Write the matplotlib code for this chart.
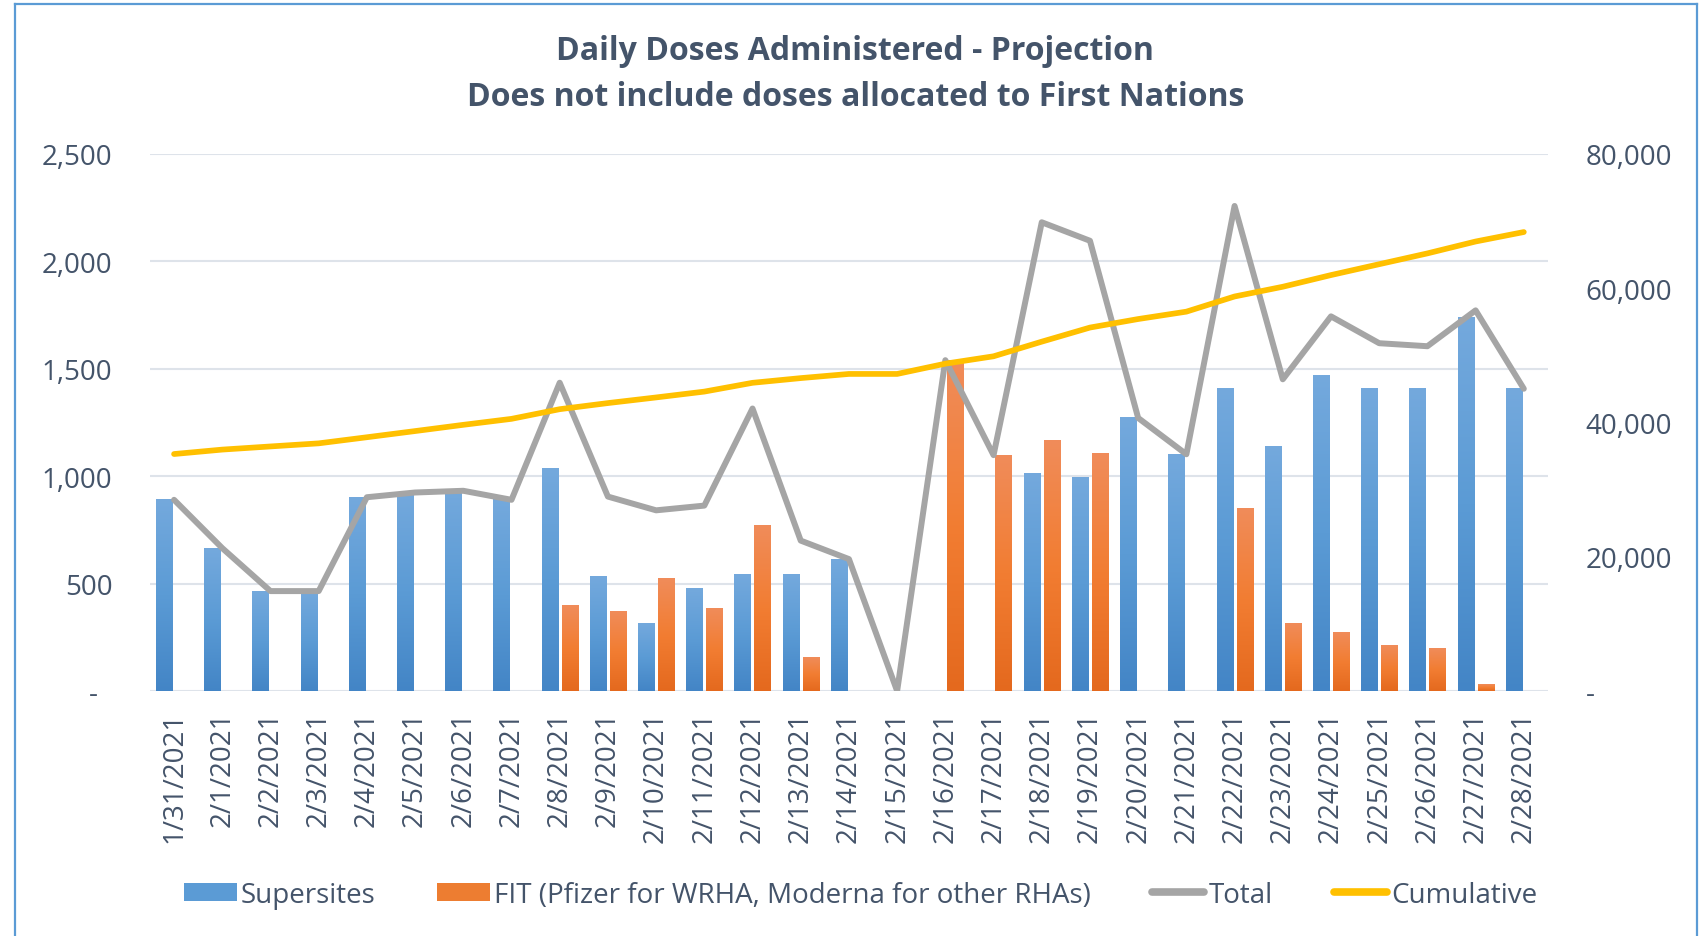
"""Daily Doses Administered - Projection (bars + total / cumulative lines)."""
import matplotlib
matplotlib.use("Agg")
import matplotlib.pyplot as plt
import numpy as np
from matplotlib.colors import LinearSegmentedColormap
from matplotlib.patches import Patch
from matplotlib.lines import Line2D
from matplotlib.ticker import FuncFormatter, MultipleLocator

plt.rcParams.update({
    "font.family": ["Open Sans", "DejaVu Sans"],
    "font.size": 20,
    "figure.facecolor": "white", "savefig.facecolor": "white",
})

TXT = "#44546A"
GRID = "#DEE3EA"
BLUE_MID, ORANGE_MID = "#5B9BD5", "#ED7D31"
GRAY, GOLD = "#A5A5A5", "#FFC000"

# ── Data ─────────────────────────────────────────────────────
dates = ["1/31/2021", "2/1/2021", "2/2/2021", "2/3/2021", "2/4/2021", "2/5/2021",
         "2/6/2021", "2/7/2021", "2/8/2021", "2/9/2021", "2/10/2021", "2/11/2021",
         "2/12/2021", "2/13/2021", "2/14/2021", "2/15/2021", "2/16/2021", "2/17/2021",
         "2/18/2021", "2/19/2021", "2/20/2021", "2/21/2021", "2/22/2021", "2/23/2021",
         "2/24/2021", "2/25/2021", "2/26/2021", "2/27/2021", "2/28/2021"]
supersites = [890, 665, 465, 465, 902, 924, 932, 890, 1037, 534, 315, 478, 544, 544,
              614, 0, 0, 0, 1014, 992, 1271, 1102, 1407, 1136, 1471, 1407, 1407, 1741, 1407]
fit = [0, 0, 0, 0, 0, 0, 0, 0, 398, 371, 526, 385, 771, 156,
       0, 0, 1540, 1098, 1168, 1104, 0, 0, 851, 315, 273, 212, 198, 31, 0]
total = [890, 665, 465, 465, 902, 924, 932, 890, 1435, 905, 841, 863, 1315, 700,
         614, 0, 1540, 1098, 2182, 2096, 1271, 1102, 2258, 1451, 1744, 1619, 1605, 1772, 1407]
cumulative = [35300, 35960, 36430, 36890, 37800, 38720, 39650, 40540, 41980, 42890,
              43730, 44600, 45910, 46610, 47230, 47230, 48760, 49860, 52040, 54140,
              55410, 56510, 58770, 60220, 61960, 63580, 65190, 66960, 68370]

# ── Figure ───────────────────────────────────────────────────
fig = plt.figure(figsize=(17.04, 9.37), dpi=100)
ax = fig.add_axes([0.088, 0.2615, 0.8204, 0.5731])
x = np.arange(len(dates))
bw = 0.35

blue_cmap = LinearSegmentedColormap.from_list("b", ["#4385C6", "#5B9BD5", "#74A9DD"])
orange_cmap = LinearSegmentedColormap.from_list("o", ["#E4691E", "#F27D32", "#F08C5A"])
grad = np.linspace(0, 1, 256).reshape(-1, 1)


def gradient_bars(xs, heights, cmap):
    bars = ax.bar(xs, heights, width=bw, color="none", edgecolor="none", zorder=2)
    for b in bars:
        h = b.get_height()
        if h <= 0:
            continue
        x0 = b.get_x()
        ax.imshow(grad, extent=(x0, x0 + b.get_width(), 0, h), origin="lower",
                  aspect="auto", cmap=cmap, zorder=2, interpolation="bilinear")


gradient_bars(x - 0.2, supersites, blue_cmap)
gradient_bars(x + 0.215, fit, orange_cmap)

ax.plot(x, total, color=GRAY, lw=4.3, solid_capstyle="round",
        solid_joinstyle="round", zorder=3)

ax.set_xlim(-0.5, len(dates) - 0.5)
ax.set_ylim(0, 2500)
ax.yaxis.set_major_locator(MultipleLocator(500))
ax.yaxis.set_major_formatter(FuncFormatter(lambda v, p: "-  " if v == 0 else f"{int(v):,}"))
ax.grid(axis="y", color=GRID, lw=1.5, zorder=0)
ax.set_axisbelow(True)
for s in ax.spines.values():
    s.set_visible(False)
ax.set_xticks(x)
ax.set_xticklabels(dates, rotation=90, va="top")
ax.tick_params(axis="x", length=0, pad=14, colors=TXT, labelsize=20)
ax.tick_params(axis="y", length=0, pad=27, colors=TXT, labelsize=20)

ax2 = ax.twinx()
ax2.plot(x, cumulative, color=GOLD, lw=4.1, solid_capstyle="round",
         solid_joinstyle="round", zorder=4)
ax2.set_ylim(0, 80000)
ax2.yaxis.set_major_locator(MultipleLocator(20000))
ax2.yaxis.set_major_formatter(FuncFormatter(lambda v, p: "-" if v == 0 else f"{int(v):,}"))
for s in ax2.spines.values():
    s.set_visible(False)
ax2.tick_params(axis="y", length=0, pad=27, colors=TXT, labelsize=20)

# ── Title ────────────────────────────────────────────────────
fig.text(0.502, 1 - 51 / 937, "Daily Doses Administered - Projection",
         ha="center", va="center", fontsize=23, fontweight="bold", color=TXT)
fig.text(0.502, 1 - 98 / 937, "Does not include doses allocated to First Nations",
         ha="center", va="center", fontsize=23, fontweight="bold", color=TXT)

# ── Legend ───────────────────────────────────────────────────
handles = [
    Patch(facecolor=BLUE_MID, edgecolor="none"),
    Patch(facecolor=ORANGE_MID, edgecolor="none"),
    Line2D([], [], color=GRAY, lw=5.5, solid_capstyle="round"),
    Line2D([], [], color=GOLD, lw=5.5, solid_capstyle="round"),
]
labels = ["Supersites", "FIT (Pfizer for WRHA, Moderna for other RHAs)", "Total", "Cumulative"]
leg = fig.legend(handles, labels, loc="center", bbox_to_anchor=(0.505, 0.044), ncol=4,
                 frameon=False, fontsize=20, handlelength=1.9, handleheight=0.65,
                 handletextpad=0.15, columnspacing=2.2)
for t in leg.get_texts():
    t.set_color(TXT)

# ── Outer chart frame ────────────────────────────────────────
fx0, fx1, fy1 = 15 / 1704, 1697 / 1704, 1 - 5 / 937
frame_kw = dict(color="#5B9BD5", lw=1.6, transform=fig.transFigure)
fig.add_artist(Line2D([fx0, fx0], [0, fy1], **frame_kw))
fig.add_artist(Line2D([fx1, fx1], [0, fy1], **frame_kw))
fig.add_artist(Line2D([fx0, fx1], [fy1, fy1], **frame_kw))

fig.savefig("out.png", dpi=100)
plt.close(fig)
